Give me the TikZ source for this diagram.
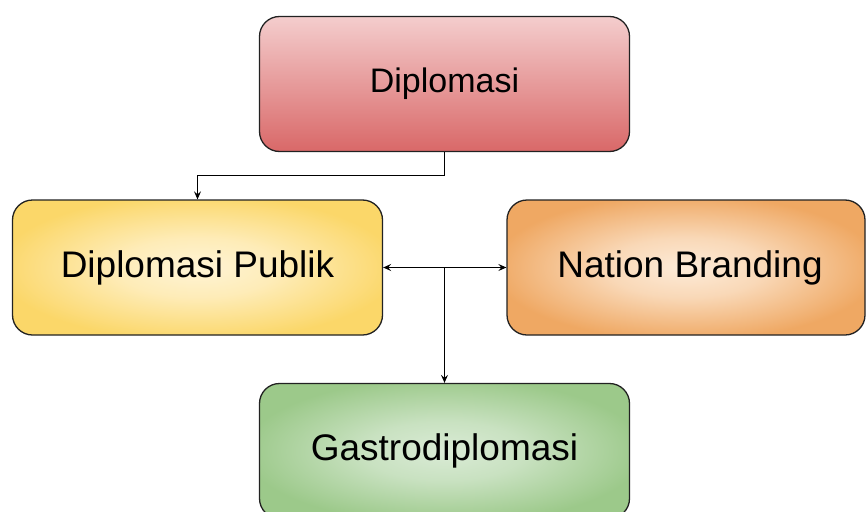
\documentclass[tikz,border=0pt]{standalone}
\usepackage{fontspec}
\setmainfont{Liberation Sans}
\usetikzlibrary{arrows.meta}
\definecolor{redtop}{HTML}{F4CDCD}
\definecolor{redbot}{HTML}{D96868}
\definecolor{yelin}{HTML}{FFF4D6}
\definecolor{yelout}{HTML}{FBD769}
\definecolor{orain}{HTML}{FDEBD8}
\definecolor{oraout}{HTML}{EFA863}
\definecolor{grnin}{HTML}{DAEBD6}
\definecolor{grnout}{HTML}{9CC98A}
\definecolor{edge}{HTML}{222222}
\pgfdeclareradialshading[softin,softout]{softradial}{\pgfpoint{0bp}{0bp}}{%
  color(0bp)=(softin);
  color(11bp)=(softmid);
  color(27bp)=(softout);
  color(50bp)=(softout)}
\tikzset{
  soft/.style 2 args={shading=softradial,
    /utils/exec={\colorlet{softin}{#1}\colorlet{softout}{#2}\colorlet{softmid}{#1!72!#2}}},
  box/.style={draw=edge, line width=1.3pt, rounded corners=20pt,
    minimum width=370pt, minimum height=135pt, inner sep=0pt,
    font=\fontsize{37}{44}\selectfont},
  conn/.style={draw=black, line width=1.2pt,
    >={Stealth[length=8pt,width=7pt,inset=3pt]}}
}
\begin{document}
\begin{tikzpicture}[x=1pt,y=-1pt]
\useasboundingbox (0,0) rectangle (866,511);
\clip (0,0) rectangle (866,511);
\fill[white] (0,0) rectangle (866,511);
\node[box, top color=redtop, bottom color=redbot,
  font=\fontsize{34}{40}\selectfont] (dip) at (444.5,84) {Diplomasi};
\node[box, soft={yelin}{yelout}] (pub) at (197.5,267.5) {Diplomasi Publik};
\node[box, soft={orain}{oraout},
  minimum width=358pt] (nb) at (686,267.5) {\hspace*{8pt}Nation Branding};
\node[box, soft={grnin}{grnout}] (gas) at (444.5,451) {Gastrodiplomasi};
\coordinate (j) at (444.5,267.5);
\draw[conn,->] (dip.south) -- ++(0,23) -| (pub.north);
\draw[conn,<->] (pub.east) -- (nb.west);
\draw[conn,->] (j) -- (gas.north);
\end{tikzpicture}
\end{document}
